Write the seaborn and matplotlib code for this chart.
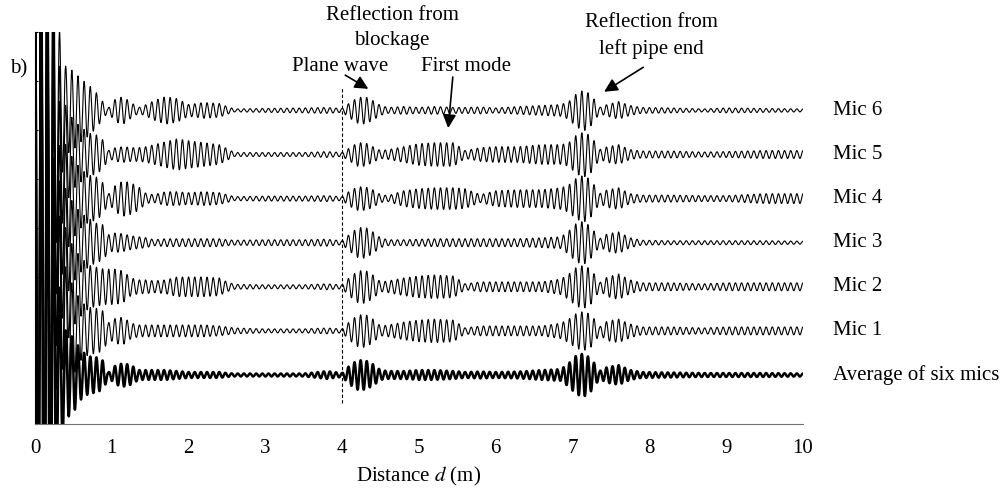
import numpy as np
import pandas as pd
import seaborn as sns
import matplotlib
matplotlib.use("Agg")
import matplotlib.pyplot as plt

# envelope of each trace (amplitude at the knot distances)
knots_d = [0, 0.2, 0.3, 0.4, 0.5, 0.6, 0.7, 0.8, 0.9, 0.95, 1.05, 1.15, 1.25, 1.35, 1.45,
           1.55, 1.7, 1.85, 2.0, 2.2, 2.4, 2.5, 2.6, 3.0, 3.5, 3.8, 4.0, 4.1, 4.2, 4.3,
           4.4, 4.5, 4.6, 4.8, 5.0, 5.2, 5.45, 5.6, 5.8, 6.0, 6.3, 6.6, 6.85, 6.95, 7.05,
           7.15, 7.25, 7.35, 7.45, 7.6, 7.75, 7.9, 8.3, 8.7, 9.0, 9.5, 10.0]

env_mic6 = [400, 300, 90, 45, 40, 32, 26, 18, 7, 2, 12, 14, 8, 3, 6,
            10, 14, 12, 6, 8, 7, 4, 1.5, 2, 2.5, 3, 2, 8, 13, 14,
            10, 5, 3, 4, 3, 4, 3, 3, 3.5, 2.5, 4, 5, 6, 9, 17,
            21, 15, 3, 6, 9, 5, 3, 2.5, 1.5, 2.5, 2, 1.5]
env_mic5 = [400, 300, 100, 50, 35, 28, 22, 20, 14, 4, 7, 8, 7, 7, 8,
            10, 13, 16, 14, 12, 10, 6, 2, 2, 2, 3, 2, 7, 12, 12,
            8, 4, 5, 8, 11, 12, 12, 4, 7, 8, 8, 10, 10, 12, 20,
            23, 18, 5, 8, 10, 5, 3.5, 3.5, 2.5, 3, 4, 4]
env_mic4 = [400, 300, 110, 55, 40, 30, 24, 22, 15, 4, 14, 18, 16, 12, 5,
            4, 7, 7, 6, 7, 6, 4, 2, 2.5, 2.5, 3, 2, 8, 12, 12,
            9, 4, 3, 8, 10, 11, 11, 10, 4, 8, 9, 9, 11, 14, 21,
            24, 18, 5, 9, 11, 5, 3.5, 3.5, 3, 3, 5, 5]
env_mic3 = [400, 300, 110, 55, 40, 30, 25, 20, 18, 8, 10, 9, 7, 6, 5,
            3, 4, 4, 4, 4, 4, 3, 2.5, 3, 3, 3.5, 2, 9, 15, 16,
            11, 5, 3, 3, 3.5, 4, 4, 4, 4, 4, 4, 5, 6, 12, 20,
            22, 15, 4, 9, 11, 5, 2.5, 2, 2, 2, 2, 1.5]
env_mic2 = [400, 300, 120, 60, 40, 30, 22, 20, 18, 18, 18, 16, 9, 7, 7,
            6, 7, 10, 10, 10, 9, 5, 2.5, 2, 2, 3, 2, 10, 16, 17,
            12, 5, 6, 9, 11, 12, 11, 3, 5, 5, 5, 5, 8, 13, 20,
            22, 17, 4, 10, 13, 7, 4, 4, 3, 4, 4, 4]
env_mic1 = [400, 300, 130, 65, 45, 30, 24, 23, 20, 8, 13, 14, 8, 6, 6,
            6, 6, 6, 6, 6, 5, 4, 3, 2, 2, 3, 2, 10, 16, 17,
            12, 5, 6, 9, 11, 12, 11, 3, 5, 5, 5, 5, 8, 12, 18,
            20, 16, 4, 10, 12, 7, 4, 4, 3, 4, 4, 4]
env_avg = [400, 300, 100, 45, 38, 25, 19, 18, 14, 2, 10, 12, 10, 5, 5,
           5, 5, 4, 3, 3, 3, 2, 1.5, 1.5, 1.5, 4, 2, 10, 15, 15,
           11, 5, 4, 4, 5, 5, 4, 3, 3.5, 3, 3.5, 5, 6, 12, 20,
           22, 16, 4, 8, 10, 5, 3, 2.5, 2, 2, 2, 1.5]

trace_names = ["Average of six mics", "Mic 1", "Mic 2", "Mic 3", "Mic 4", "Mic 5", "Mic 6"]
trace_offsets = [0, 45, 90, 135, 180, 225, 270]
envelopes = [env_avg, env_mic1, env_mic2, env_mic3, env_mic4, env_mic5, env_mic6]
wavelength = 0.08  # m, read from the spacing of the peaks

d = np.linspace(0, 10, 4001)
rows = []
for name, off, env in zip(trace_names, trace_offsets, envelopes):
    amp = np.interp(d, knots_d, env)
    sig = off + amp * np.cos(2 * np.pi * d / wavelength)
    rows.append(pd.DataFrame({"distance": d, "signal": sig, "trace": name}))
df = pd.concat(rows, ignore_index=True)

sns.set_style("white")
plt.rcParams["font.family"] = ["Liberation Serif", "DejaVu Serif"]
plt.rcParams["mathtext.fontset"] = "stix"
plt.rcParams["text.color"] = "black"
plt.rcParams["axes.labelcolor"] = "black"
plt.rcParams["xtick.color"] = "black"
plt.rcParams["ytick.color"] = "black"

fig = plt.figure(figsize=(10.03, 4.91), dpi=100)
ax = fig.add_axes([0.0349, 0.1365, 0.7657, 0.7983])

mics = df[df["trace"] != "Average of six mics"]
sns.lineplot(data=mics, x="distance", y="signal", units="trace", estimator=None,
             sort=False, color="black", lw=0.8, ax=ax)
sns.lineplot(data=df[df["trace"] == "Average of six mics"], x="distance", y="signal",
             estimator=None, sort=False, color="black", lw=1.8, ax=ax)

ax.set_xlim(0, 10)
ax.set_ylim(-50, 350)
ax.set_xticks(range(0, 11))
ax.set_yticks(range(-50, 351, 50))
ax.set_yticklabels([])
ax.tick_params(axis="x", direction="in", length=5, width=0.8, labelsize=15, pad=11,
               colors="black")
ax.tick_params(axis="y", direction="in", length=2.5, width=0.8, left=True)
ax.set_xlabel("Distance $d$ (m)", fontsize=15, labelpad=5)
ax.set_ylabel("")
sns.despine(ax=ax)
ax.spines["bottom"].set_color("#707070")
ax.spines["left"].set_color("black")

ax.plot([4, 4], [-29, 293], color="black", lw=0.8, dashes=(3, 2))

for name, off in zip(trace_names, trace_offsets):
    ax.text(10.39, off, name, fontsize=15, va="center", ha="left")

ax.text(-0.1, 312, "b)", fontsize=15, va="center", ha="right")
ax.text(4.65, 354, "Reflection from\nblockage", fontsize=15, ha="center", va="center",
        linespacing=1.45)
ax.text(8.02, 346, "Reflection from\nleft pipe end", fontsize=15, ha="center", va="center",
        linespacing=1.45)
ax.text(3.97, 315, "Plane wave", fontsize=15, ha="center", va="center")
ax.text(5.61, 315, "First mode", fontsize=15, ha="center", va="center")

arrow = dict(arrowstyle="-|>", color="black", lw=1.2, mutation_scale=20,
             shrinkA=0, shrinkB=0)
ax.annotate("", xy=(4.34, 292), xytext=(4.04, 306), arrowprops=arrow, annotation_clip=False)
ax.annotate("", xy=(5.38, 252), xytext=(5.44, 304), arrowprops=arrow, annotation_clip=False)
ax.annotate("", xy=(7.41, 289), xytext=(7.92, 314), arrowprops=arrow, annotation_clip=False)

legend = ax.get_legend()
if legend is not None:
    legend.remove()

fig.savefig("out.png", dpi=100)
